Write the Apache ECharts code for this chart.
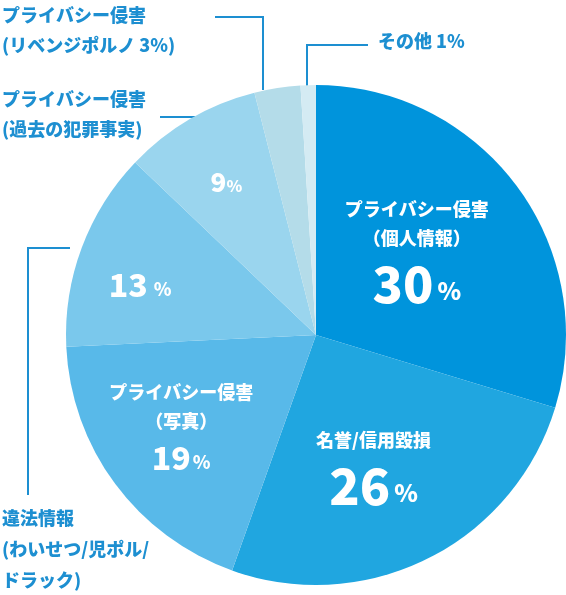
<!DOCTYPE html><html><head><meta charset="utf-8"><script src="https://cdn.jsdelivr.net/npm/echarts@6/dist/echarts.min.js"></script></head><body style="margin:0"><div id="c" style="width:566px;height:595px"></div><script>
const names=['プライバシー侵害\n（個人情報）','名誉/信用毀損','プライバシー侵害\n（写真）','違法情報','プライバシー侵害(過去の犯罪事実)','プライバシー侵害(リベンジポルノ)','その他'];
const values=[30,26,19,13,9,3,1];
const colors=['#0094dc','#20a6e0','#58b9e9','#7ac8ec','#9ad5ee','#b4dce9','#d4ebf3'];
const offsets=[[-2,-4],[0,22],[-32,18],[-56,-5],[-25,-42],[0,0],[0,0]];
const F='"Noto Sans CJK JP",sans-serif';
function fmt(p){const i=p.dataIndex;
 if(i===0)return '{t|プライバシー侵害}\n{t|（個人情報）}\n{b|30}{p|%}';
 if(i===1)return '{t|名誉/信用毀損}\n{b|26}{p|%}';
 if(i===2)return '{t|プライバシー侵害}\n{t|（写真）}\n{m|19}{q|%}';
 if(i===3)return '{m|13}{q| %}';
 if(i===4)return '{s|9}{r|%}';
 return '';}
const ch=echarts.init(document.getElementById('c'));
ch.setOption({animation:false,series:[{type:'pie',center:[316,335],radius:[0,250],startAngle:90,clockwise:true,
 data:values.map((v,i)=>({value:v,name:names[i],itemStyle:{color:colors[i]}})),
 itemStyle:{borderColor:'#fff',borderWidth:0},
 label:{position:'inside',formatter:fmt,color:'#fff',fontFamily:F,align:'center',
  rich:{t:{fontSize:18,fontWeight:900,color:'#fff',lineHeight:29,fontFamily:F},
   b:{fontSize:50,fontWeight:900,color:'#fff',lineHeight:62,fontFamily:F},
   p:{fontSize:24,fontWeight:900,color:'#fff',fontFamily:F,padding:[14,0,0,4]},
   m:{fontSize:32,fontWeight:900,color:'#fff',lineHeight:46,fontFamily:F},
   q:{fontSize:18,fontWeight:900,color:'#fff',fontFamily:F,padding:[8,0,0,2]},
   s:{fontSize:26,fontWeight:900,color:'#fff',fontFamily:F},
   r:{fontSize:16,fontWeight:900,color:'#fff',fontFamily:F,padding:[6,0,0,0]}}},
 labelLayout:p=>({dx:offsets[p.dataIndex][0],dy:offsets[p.dataIndex][1]}),
 labelLine:{show:false}}],
 graphic:[
  {type:'text',left:2,top:0,style:{text:'プライバシー侵害\n(リベンジポルノ 3%)',fill:'#1d8fd1',font:'900 18px '+F,lineHeight:30}},
  {type:'polyline',shape:{points:[[215,17],[263,17],[263,90]]},style:{stroke:'#1d8fd1',lineWidth:2,fill:null}},
  {type:'text',left:378,top:32,style:{text:'その他 1%',fill:'#1d8fd1',font:'900 18px '+F}},
  {type:'polyline',shape:{points:[[368,45],[307,45],[307,86]]},style:{stroke:'#1d8fd1',lineWidth:2,fill:null}},
  {type:'text',left:2,top:84,style:{text:'プライバシー侵害\n(過去の犯罪事実)',fill:'#1d8fd1',font:'900 18px '+F,lineHeight:30}},
  {type:'polyline',shape:{points:[[160,117],[195,117]]},style:{stroke:'#1d8fd1',lineWidth:2,fill:null}},
  {type:'text',left:2,top:503,style:{text:'違法情報\n(わいせつ/児ポル/\nドラック)',fill:'#1d8fd1',font:'900 18px '+F,lineHeight:31}},
  {type:'polyline',shape:{points:[[28,495],[28,248],[70,248]]},style:{stroke:'#1d8fd1',lineWidth:2,fill:null}}
 ]});
</script></body></html>
